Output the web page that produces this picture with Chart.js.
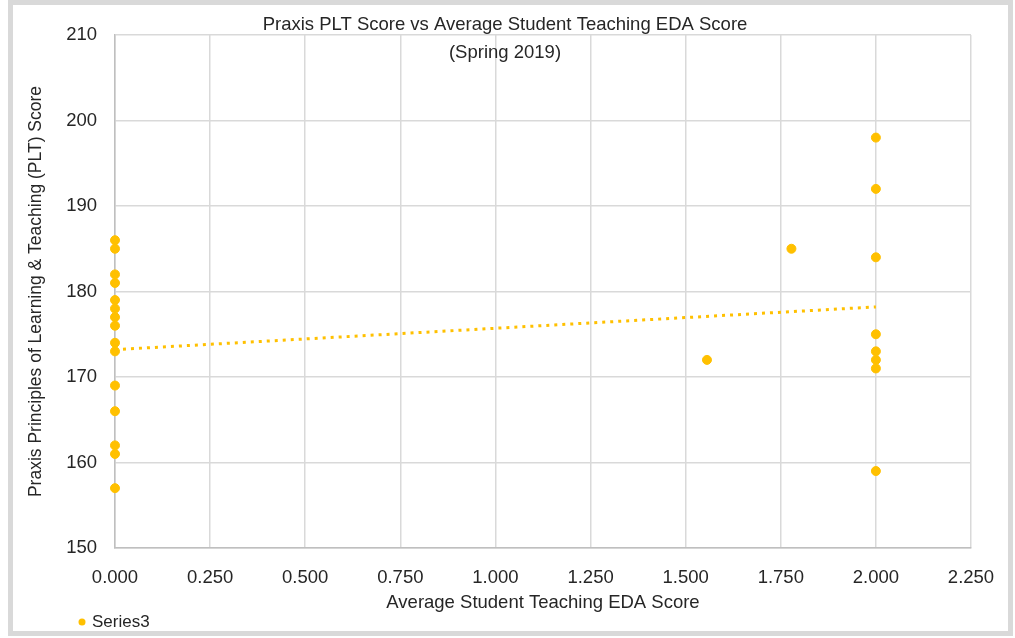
<!DOCTYPE html>
<html lang="en">
<head>
    <meta charset="UTF-8">
    <title>Praxis PLT Score vs Average Student Teaching EDA Score</title>
    <script src="https://cdn.jsdelivr.net/npm/chart.js"></script>
    <style>
        html, body {
            margin: 0;
            padding: 0;
            background: #fff;
        }
        .wrap {
            position: relative;
            width: 1015px;
            height: 638px;
        }
    </style>
</head>
<body>
    <div class="wrap">
        <canvas id="scatter" width="1015" height="638"></canvas>
    </div>

    <script>
        // data
        const eda = [0, 0, 0, 0, 0, 0, 0, 0, 0, 0, 0, 0, 0, 0, 0,
                     1.556, 1.778,
                     2, 2, 2, 2, 2, 2, 2, 2];
        const plt = [186, 185, 182, 181, 179, 178, 177, 176, 174, 173, 169, 166, 162, 161, 157,
                     172, 185,
                     198, 192, 184, 175, 173, 172, 171, 159];
        // linear trendline end points
        const trendX = [0, 2];
        const trendY = [173.2, 178.2];

        const titleLines = ['Praxis PLT Score vs Average Student Teaching EDA Score', '(Spring 2019)'];
        const seriesName = 'Series3';

        const gold = '#FFC000';
        const fontFam = '"Liberation Sans", Arial, sans-serif';
        const textCol = '#262626';

        // title, legend and outer frame
        const extras = {
            id: 'extras',
            beforeDraw(chart) {
                const c = chart.ctx;
                c.save();
                c.strokeStyle = '#d9d9d9';
                c.lineWidth = 5;
                c.strokeRect(10.5, 2.5, 1000, 631);
                c.restore();
            },
            afterDraw(chart) {
                const c = chart.ctx;
                c.save();
                c.fillStyle = textCol;
                c.font = '18.5px ' + fontFam;
                c.textAlign = 'center';
                c.textBaseline = 'middle';
                c.fillText(titleLines[0], 505, 25);
                c.fillText(titleLines[1], 505, 53);

                c.fillStyle = gold;
                c.beginPath();
                c.arc(82, 622, 3.5, 0, Math.PI * 2);
                c.fill();
                c.fillStyle = textCol;
                c.font = '17px ' + fontFam;
                c.textAlign = 'left';
                c.fillText(seriesName, 92, 622);
                c.restore();
            }
        };

        new Chart(document.getElementById('scatter'), {
            type: 'scatter',
            data: {
                datasets: [{
                    label: seriesName,
                    data: eda.map((x, i) => ({ x: x, y: plt[i] })),
                    backgroundColor: gold,
                    borderColor: gold,
                    pointRadius: 4.5,
                    pointHoverRadius: 4.5,
                    clip: false
                }, {
                    label: 'Trend',
                    type: 'line',
                    data: trendX.map((x, i) => ({ x: x, y: trendY[i] })),
                    borderColor: gold,
                    borderWidth: 3,
                    borderDash: [3, 5],
                    borderCapStyle: 'butt',
                    pointRadius: 0,
                    fill: false,
                    clip: false
                }]
            },
            options: {
                responsive: false,
                animation: false,
                layout: {
                    padding: { left: 0, top: 35, right: 44, bottom: 0 }
                },
                plugins: {
                    legend: { display: false },
                    title: { display: false },
                    tooltip: { enabled: false }
                },
                scales: {
                    x: {
                        type: 'linear',
                        min: 0,
                        max: 2.25,
                        afterFit(scale) { scale.height = 90; },
                        ticks: {
                            stepSize: 0.25,
                            padding: 19,
                            color: textCol,
                            font: { family: fontFam, size: 18.5 },
                            callback: v => v.toFixed(3)
                        },
                        grid: {
                            color: '#d9d9d9',
                            lineWidth: 1.5,
                            drawTicks: false
                        },
                        border: { color: '#bfbfbf', width: 1.5 },
                        title: {
                            display: true,
                            text: 'Average Student Teaching EDA Score',
                            color: textCol,
                            font: { family: fontFam, size: 18.5 },
                            padding: { top: 0, bottom: 24 }
                        }
                    },
                    y: {
                        min: 150,
                        max: 210,
                        afterFit(scale) { scale.width = 115; },
                        ticks: {
                            stepSize: 10,
                            padding: 18,
                            color: textCol,
                            font: { family: fontFam, size: 18.5 }
                        },
                        grid: {
                            color: '#d9d9d9',
                            lineWidth: 1.5,
                            drawTicks: false
                        },
                        border: { color: '#bfbfbf', width: 1.5 },
                        title: {
                            display: true,
                            text: 'Praxis Principles of Learning & Teaching (PLT) Score',
                            color: textCol,
                            font: { family: fontFam, size: 17.5 },
                            padding: { top: 26, bottom: 0 }
                        }
                    }
                }
            },
            plugins: [extras]
        });
    </script>
</body>
</html>
